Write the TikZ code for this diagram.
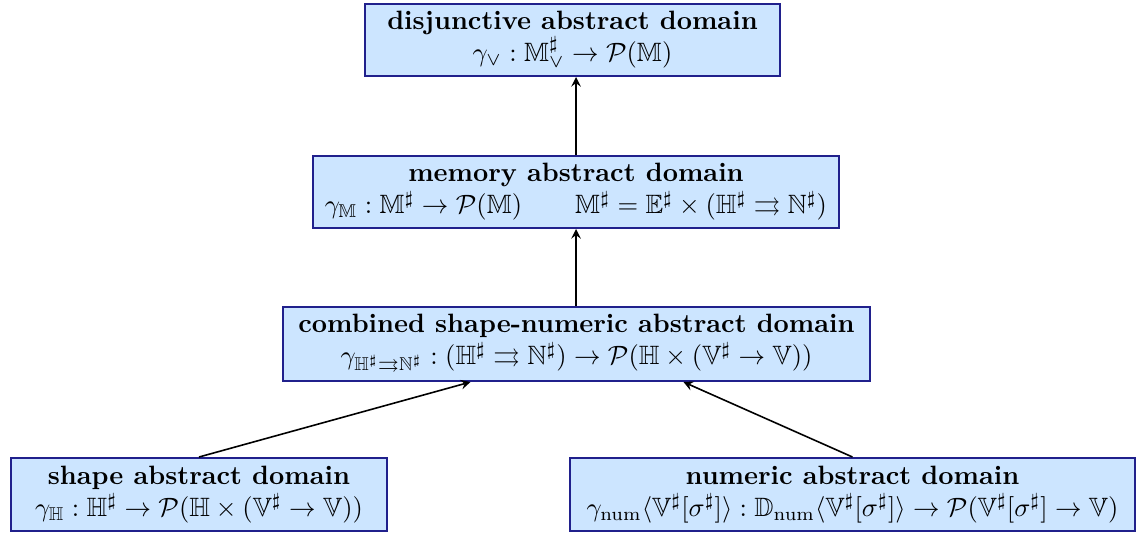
\documentclass[tikz,border=0pt]{standalone}
\usepackage{amsmath,amssymb}
\usetikzlibrary{calc}
\definecolor{boxfill}{RGB}{204,229,255}
\definecolor{boxdraw}{RGB}{32,32,140}
\newlength{\px}
\setlength{\px}{0.377pt}
\begin{document}
\begin{tikzpicture}[x=\px,y=-\px,
  dombox/.style={draw=boxdraw,fill=boxfill,line width=0.75pt,align=center,inner sep=0pt,anchor=north west},
  arr/.style={->,semithick,>=stealth}]
\path[use as bounding box] (0,0) rectangle (1136,534);
\node[dombox,minimum width=415\px,minimum height=72\px] (top) at (364,3)
  {\textbf{disjunctive abstract domain}\\ $\gamma_{\vee} : \mathbb{M}^\sharp_{\vee} \to \mathcal{P}(\mathbb{M})$};
\node[dombox,minimum width=526\px,minimum height=72\px] (mem) at (312,155)
  {\textbf{memory abstract domain}\\ $\gamma_{\mathbb{M}} : \mathbb{M}^\sharp \to \mathcal{P}(\mathbb{M}) \qquad \mathbb{M}^\sharp = \mathbb{E}^\sharp \times (\mathbb{H}^\sharp \rightrightarrows \mathbb{N}^\sharp)$};
\node[dombox,minimum width=587\px,minimum height=74\px] (comb) at (282,306)
  {\textbf{combined shape-numeric abstract domain}\\ $\gamma_{\mathbb{H}^\sharp \rightrightarrows \mathbb{N}^\sharp} : (\mathbb{H}^\sharp \rightrightarrows \mathbb{N}^\sharp) \to \mathcal{P}(\mathbb{H} \times (\mathbb{V}^\sharp \to \mathbb{V}))$};
\node[dombox,minimum width=376\px,minimum height=73\px] (shape) at (10,457)
  {\textbf{shape abstract domain}\\ $\gamma_{\mathbb{H}} : \mathbb{H}^\sharp \to \mathcal{P}(\mathbb{H} \times (\mathbb{V}^\sharp \to \mathbb{V}))$};
\node[dombox,minimum width=565\px,minimum height=73\px] (num) at (569,457)
  {\textbf{numeric abstract domain}\\ $\gamma_{\mathrm{num}}\langle \mathbb{V}^\sharp[\sigma^\sharp]\rangle : \mathbb{D}_{\mathrm{num}}\langle \mathbb{V}^\sharp[\sigma^\sharp]\rangle \to \mathcal{P}(\mathbb{V}^\sharp[\sigma^\sharp] \to \mathbb{V})$};
\coordinate (cl) at ($(comb.south)+(-106,0)$);
\coordinate (cr) at ($(comb.south)+(107,0)$);
\draw[arr] (mem.north -| 576,0) -- (top.south -| 576,0);
\draw[arr] (comb.north -| 576,0) -- (mem.south -| 576,0);
\draw[arr] (shape.north) -- (cl);
\draw[arr] (num.north) -- (cr);
\end{tikzpicture}
\end{document}
